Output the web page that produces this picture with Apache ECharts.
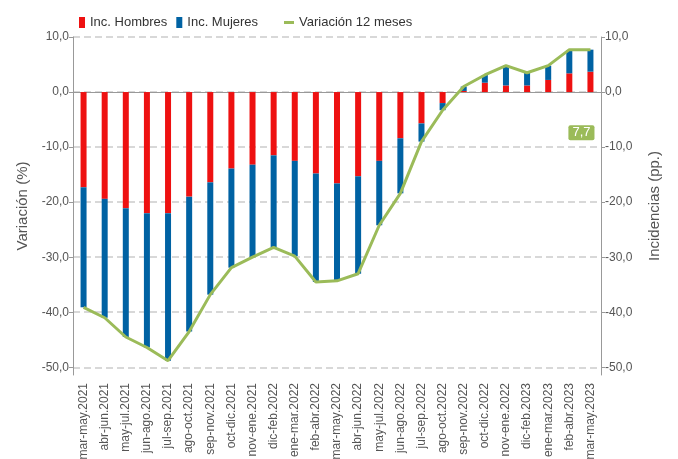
<!DOCTYPE html>
<html>
<head>
<meta charset="utf-8">
<style>
  html, body { margin: 0; padding: 0; background: #fff; }
  #chart { width: 678px; height: 459px; }
</style>
<script src="https://cdn.jsdelivr.net/npm/echarts@6/dist/echarts.min.js"></script>
</head>
<body>
<div id="chart"></div>
<script>
// periodos moviles de 3 meses
var categorias = ["mar-may.2021", "abr-jun.2021", "may-jul.2021", "jun-ago.2021", "jul-sep.2021",
  "ago-oct.2021", "sep-nov.2021", "oct-dic.2021", "nov-ene.2021", "dic-feb.2022", "ene-mar.2022",
  "feb-abr.2022", "mar-may.2022", "abr-jun.2022", "may-jul.2022", "jun-ago.2022", "jul-sep.2022",
  "ago-oct.2022", "sep-nov.2022", "oct-dic.2022", "nov-ene.2022", "dic-feb.2023", "ene-mar.2023",
  "feb-abr.2023", "mar-may.2023"];

var incHombres = [-17.3, -19.4, -21.1, -22.0, -22.0, -19.0, -16.4, -13.9, -13.2, -11.5, -12.5,
  -14.8, -16.6, -15.3, -12.5, -8.4, -5.7, -2.0, 0.2, 1.7, 1.2, 1.2, 2.2, 3.4, 3.7];
var incMujeres = [-21.8, -21.6, -23.4, -24.4, -26.8, -24.5, -20.4, -18.0, -16.8, -16.7, -17.3,
  -19.7, -17.7, -17.7, -11.7, -10.0, -3.3, -1.3, 0.8, 1.4, 3.6, 2.3, 2.6, 4.2, 4.0];
var variacion = [-39.1, -41.0, -44.5, -46.4, -48.8, -43.5, -36.8, -31.9, -30.0, -28.2, -29.8,
  -34.5, -34.3, -33.0, -24.2, -18.4, -9.0, -3.3, 1.0, 3.1, 4.8, 3.5, 4.8, 7.7, 7.7];
var ticksY = [-50, -40, -30, -20, -10, 0, 10];

var FONT = "Liberation Sans, Arial, sans-serif";
var fmt = function (v) { return v.toFixed(1).replace(".", ","); };

var chart = echarts.init(document.getElementById("chart"));

function ejeY(nombre, pos, gap) {
  return {
    type: "value",
    position: pos,
    min: -51.4,
    max: 10,
    name: nombre,
    nameLocation: "middle",
    nameGap: gap,
    nameTextStyle: { fontFamily: FONT, fontSize: 15, color: "#555" },
    axisLine: { show: true, lineStyle: { color: "#999" } },
    axisTick: { show: true, length: 4, customValues: ticksY, lineStyle: { color: "#999" } },
    axisLabel: {
      customValues: ticksY,
      formatter: fmt,
      fontFamily: FONT, fontSize: 12, color: "#555", margin: 4
    },
    splitLine: {
      show: pos === "left",
      lineStyle: { color: "#ccc", type: [7, 4], width: 1.5 }
    }
  };
}

chart.setOption({
  animation: false,
  textStyle: { fontFamily: FONT },
  grid: { left: 73, right: 77, top: 37, bottom: 84, outerBoundsMode: "none" },
  legend: [
    {
      left: 74, top: 11,
      itemWidth: 6, itemHeight: 11, itemGap: 9,
      textStyle: { fontFamily: FONT, fontSize: 13, color: "#333" },
      data: [{ name: "Inc. Hombres", icon: "rect" }, { name: "Inc. Mujeres", icon: "rect" }]
    },
    {
      left: 279, top: 11,
      itemWidth: 10, itemHeight: 3,
      textStyle: { fontFamily: FONT, fontSize: 13, color: "#333" },
      data: [{ name: "Variación 12 meses", icon: "rect" }]
    }
  ],
  xAxis: {
    type: "category",
    data: categorias,
    axisLine: { lineStyle: { color: "#999" } },
    axisTick: { alignWithLabel: true, length: 4, lineStyle: { color: "#999" } },
    axisLabel: { rotate: 90, interval: 0, fontFamily: FONT, fontSize: 12, color: "#555", margin: 8 }
  },
  yAxis: [ejeY("Variación (%)", "left", 43), ejeY("Incidencias (pp.)", "right", 46)],
  series: [
    {
      name: "Inc. Hombres",
      type: "bar",
      stack: "inc",
      barWidth: 6,
      itemStyle: { color: "#ee1111" },
      data: incHombres
    },
    {
      name: "Inc. Mujeres",
      type: "bar",
      stack: "inc",
      barWidth: 6,
      itemStyle: { color: "#0062a3" },
      data: incMujeres
    },
    {
      name: "Variación 12 meses",
      type: "line",
      showSymbol: true,
      symbolSize: 0,
      z: 5,
      lineStyle: { color: "#9bbb59", width: 3 },
      itemStyle: { color: "#9bbb59" },
      label: { show: false },
      data: variacion.map(function (v, i) {
        if (i !== variacion.length - 1) return v;
        return {
          value: v,
          label: {
            show: true,
            position: "inside",
            offset: [-9, 83],
            formatter: function (p) { return fmt(p.value); },
            color: "#fff",
            fontFamily: FONT,
            fontSize: 13,
            backgroundColor: "#9bbb59",
            borderRadius: 2,
            padding: [1, 4]
          }
        };
      })
    }
  ]
});
</script>
</body>
</html>
